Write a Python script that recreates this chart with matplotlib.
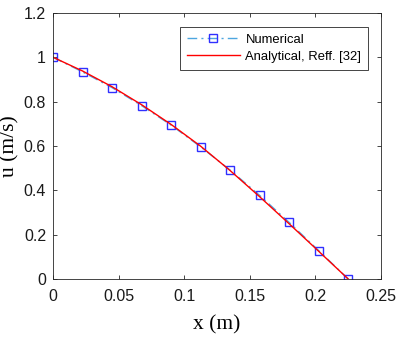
import matplotlib.pyplot as plt

x_num = [0, 0.0225, 0.045, 0.0675, 0.09, 0.1125, 0.135, 0.1575, 0.18, 0.2025, 0.225]
u_num = [1.0, 0.934, 0.863, 0.782, 0.694, 0.596, 0.491, 0.377, 0.255, 0.128, 0.0]

x_ana = [0, 0.0225, 0.045, 0.0675, 0.09, 0.1125, 0.135, 0.1575, 0.18, 0.2025, 0.225]
u_ana = [1.0, 0.938, 0.867, 0.786, 0.697, 0.599, 0.489, 0.371, 0.249, 0.125, 0.0]

fig = plt.figure(figsize=(4, 3.39), dpi=100)
ax = fig.add_axes([0.1325, 0.177, 0.82, 0.785])

ax.plot(x_num, u_num, linestyle=(0, (7, 3, 1.5, 3)), color='#4da6e0', lw=1.0,
        marker='s', markersize=6, markerfacecolor='none',
        markeredgecolor='#3030ff', markeredgewidth=1.0, label='Numerical')
ax.plot(x_ana, u_ana, color='red', lw=1.0, label='Analytical, Reff. [32]')

ax.set_xlim(0, 0.25)
ax.set_ylim(0, 1.2)
ax.set_xticks([0, 0.05, 0.1, 0.15, 0.2, 0.25])
ax.set_xticklabels(['0', '0.05', '0.1', '0.15', '0.2', '0.25'])
ax.set_yticks([0, 0.2, 0.4, 0.6, 0.8, 1, 1.2])
ax.set_yticklabels(['0', '0.2', '0.4', '0.6', '0.8', '1', '1.2'])
ax.tick_params(direction='in', top=True, right=True, labelsize=11.5, length=3, width=0.6,
               colors='#262626')
ax.tick_params(axis='x', pad=7)
ax.tick_params(axis='y', pad=5)
for lbl in ax.get_xticklabels() + ax.get_yticklabels():
    lbl.set_family('Liberation Sans')
    lbl.set_color('#1a1a1a')
for sp in ax.spines.values():
    sp.set_linewidth(0.6)
    sp.set_color('#262626')

ax.set_xlabel('x (m)', family='Liberation Serif', fontsize=15.5, labelpad=8)
ax.set_ylabel('u (m/s)', family='Liberation Serif', fontsize=15.5, labelpad=3)

leg = ax.legend(loc='upper right', fancybox=False, framealpha=1, edgecolor='#262626',
                prop={'family': 'Liberation Sans', 'size': 9.4}, handlelength=4.1,
                borderpad=0.5, labelspacing=0.4, handletextpad=0.4,
                borderaxespad=0, bbox_to_anchor=(0.96, 0.947))
leg.get_frame().set_linewidth(0.6)

fig.savefig('out.png', dpi=100)
